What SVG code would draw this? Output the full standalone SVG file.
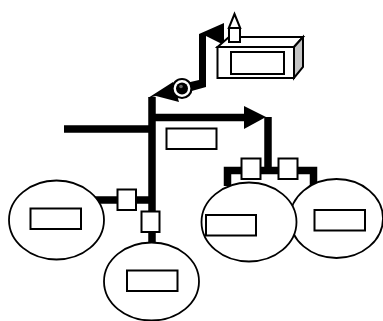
<svg xmlns="http://www.w3.org/2000/svg" width="383" height="321" viewBox="0 0 383 321">
<style>
.s{fill:#fff;stroke:#000;stroke-width:2}
.e{fill:#fff;stroke:#000;stroke-width:1.800}
.l{fill:none;stroke:#000;stroke-width:7.500;stroke-linejoin:miter}
.h{fill:#000;stroke:none}
</style>
<rect width="383" height="321" fill="#fff"/>
<g id="connectors">
<path class="l" d="M64 129H152"/>
<path class="l" d="M152 97V243"/>
<path class="l" d="M152 117.500H248"/>
<path class="h" d="M266 117 244 106V129Z"/>
<path class="l" d="M268 117V170"/>
<path class="l" d="M227.500 186V170.500H313.500V186"/>
<path class="l" d="M95 200H152"/>
<path class="h" d="M148 98 173 82 179 102 156 96Z"/>
<path class="h" d="M186 83 199 80V34L224 23V45L206 36V87L188 92Z"/>
</g>
<g id="camera">
<path d="M217.500 47 229 37H303L294 47Z" class="s"/>
<path d="M294 47 303 37V67L294 78Z" fill="#c4c4c4" stroke="#000" stroke-width="2"/>
<rect class="s" x="217.500" y="47" width="76.500" height="31"/>
<rect class="s" x="231" y="52" width="53" height="22"/>
</g>
<g id="antenna">
<rect class="s" x="229" y="28" width="11" height="14"/>
<path class="s" d="M234.500 14 228.800 28H240.200Z"/>
</g>
<g id="lens">
<circle cx="182" cy="88.500" r="9.500" fill="#fff" stroke="#000" stroke-width="2.200"/>
<circle cx="182" cy="88.500" r="6" fill="#000"/>
<circle cx="181" cy="86.500" r="1.800" fill="#666"/>
</g>
<g id="center-label"><rect class="s" x="166.500" y="128.500" width="50" height="20.500"/></g>
<g id="switch-left"><rect class="s" x="117.500" y="189.500" width="18.500" height="20.500"/></g>
<g id="switch-down"><rect class="s" x="141.500" y="211.500" width="18" height="20.500"/></g>
<g id="switch-a"><rect class="s" x="241.500" y="158.500" width="19" height="20.500"/></g>
<g id="switch-b"><rect class="s" x="278.500" y="158.500" width="19" height="20.500"/></g>
<g id="zone-left">
<ellipse class="e" cx="56.500" cy="220" rx="47.500" ry="39.500"/>
<rect class="s" x="30.500" y="208.500" width="50.500" height="20.500"/>
</g>
<g id="zone-bottom">
<ellipse class="e" cx="151.500" cy="281.500" rx="47.500" ry="39"/>
<rect class="s" x="127" y="270.500" width="50.500" height="20.500"/>
</g>
<g id="zone-right">
<ellipse class="e" cx="336.500" cy="218.500" rx="46.500" ry="39.500"/>
<rect class="s" x="314.500" y="210" width="50.500" height="20.500"/>
</g>
<g id="zone-mid">
<ellipse class="e" cx="249" cy="222" rx="47.500" ry="39.500"/>
<rect class="s" x="206" y="215" width="50" height="20.500"/>
</g>
</svg>
